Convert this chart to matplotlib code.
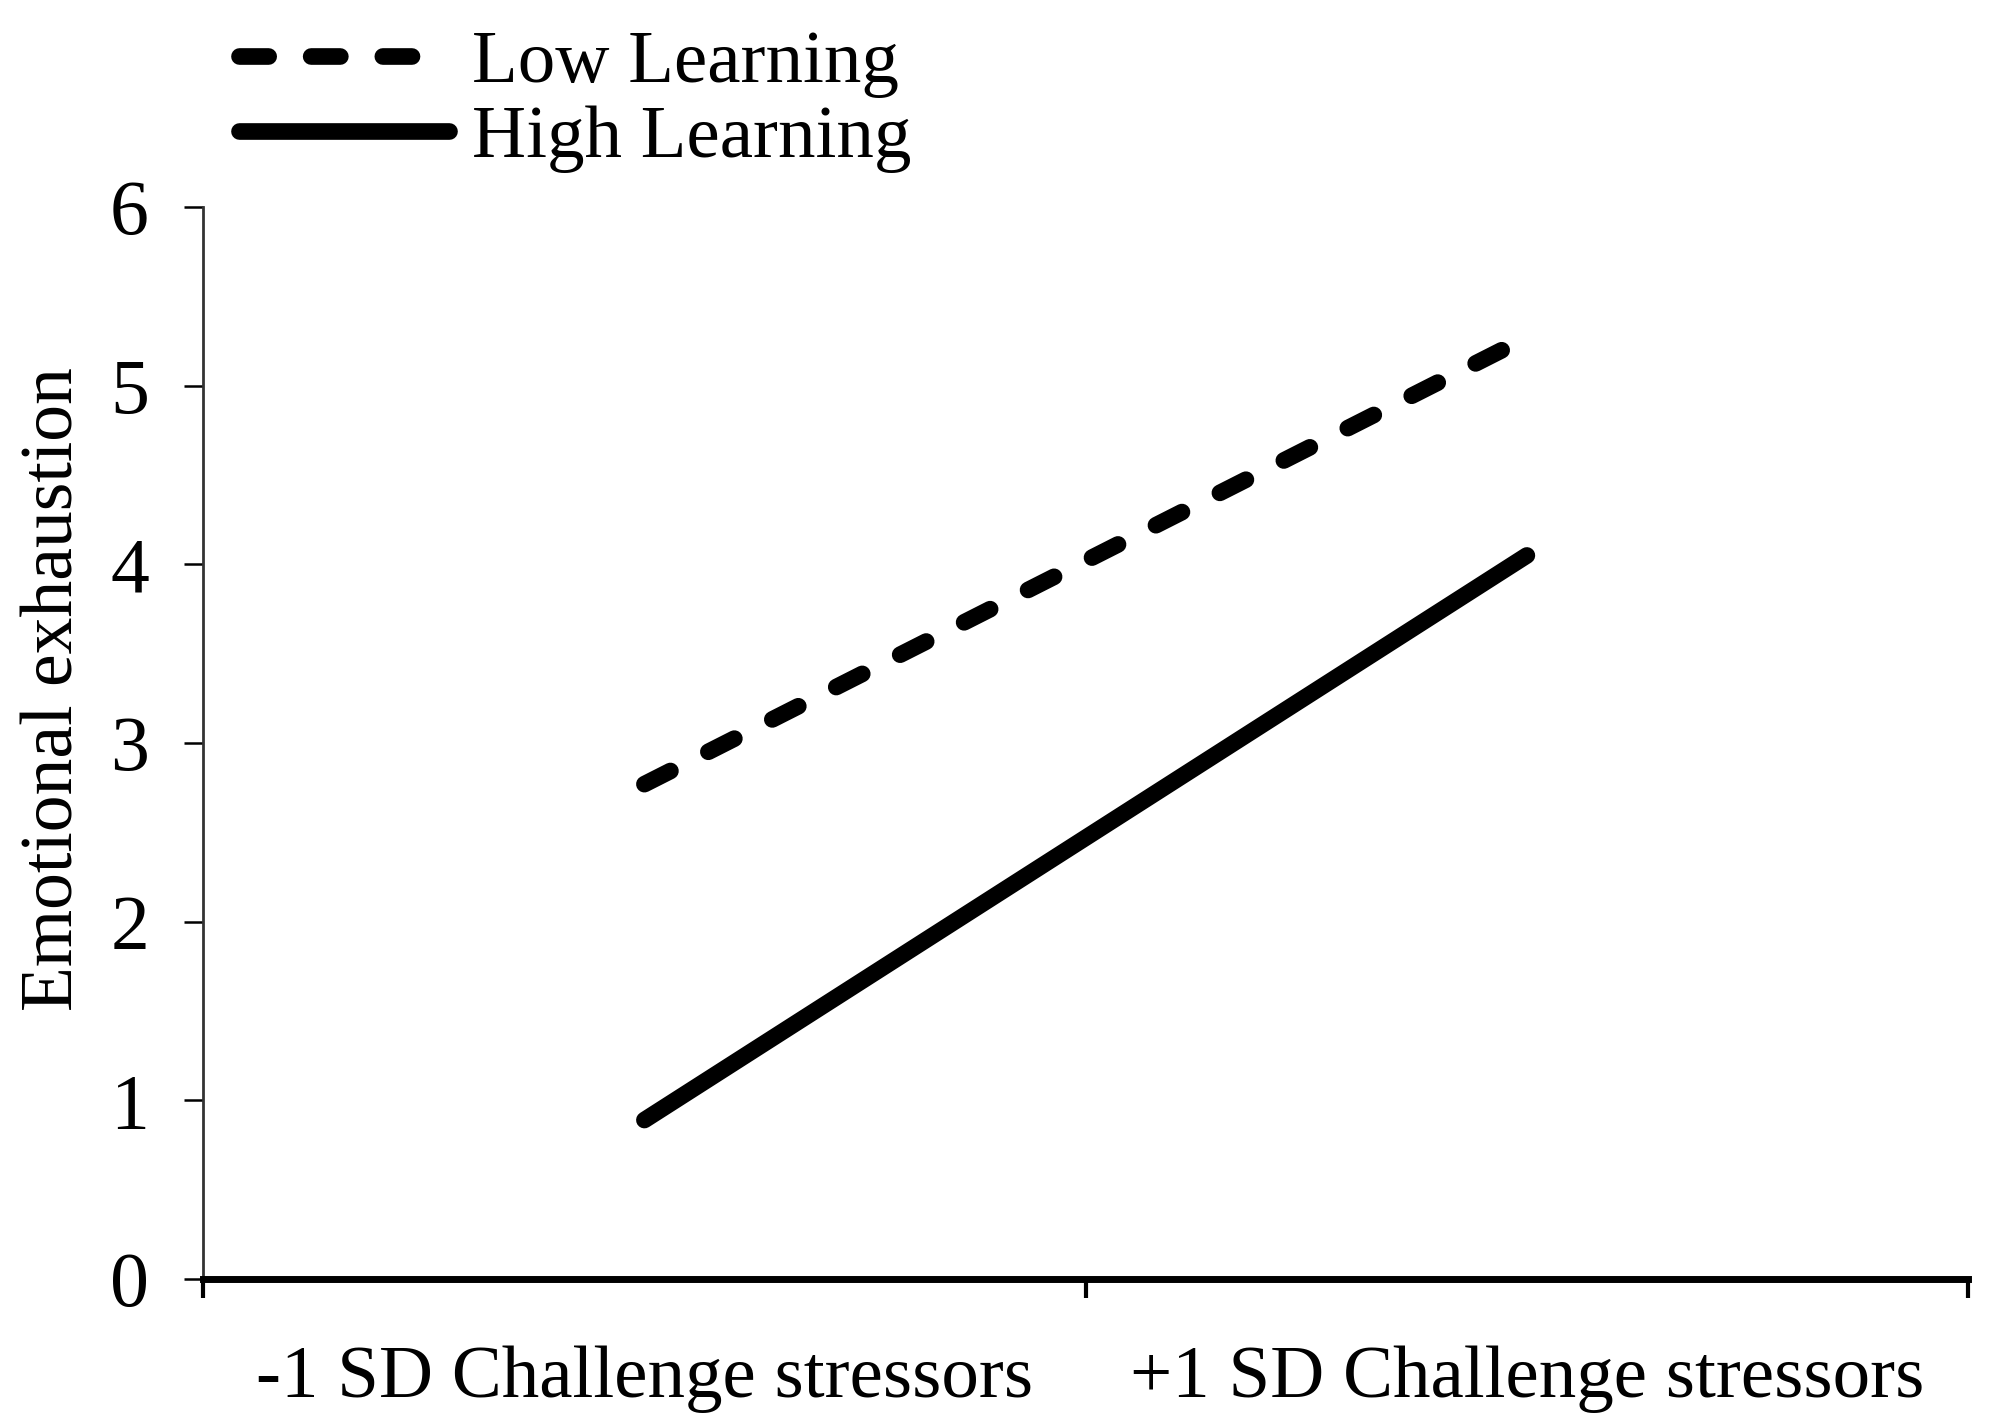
import matplotlib
matplotlib.use("Agg")
import matplotlib.pyplot as plt

plt.rcParams['font.family'] = ['Liberation Serif', 'DejaVu Serif']

# ── Data ──────────────────────────────────────────────────────────────────────
categories = ['-1 SD Challenge stressors', '+1 SD Challenge stressors']
low_learning = [2.77, 5.27]
high_learning = [0.89, 4.05]
y_ticks = [0, 1, 2, 3, 4, 5, 6]

x = list(range(len(categories)))

fig = plt.figure(figsize=(19.92, 14.28), dpi=100)
ax = fig.add_axes([0.102, 0.1043, 0.886, 0.7507])

ax.plot(x, low_learning, color='black', lw=12, linestyle=(0, (1.75, 2.55)),
        dash_capstyle='round', solid_capstyle='round', label='Low Learning')
ax.plot(x, high_learning, color='black', lw=12, solid_capstyle='round',
        label='High Learning')

# ── Axes ──────────────────────────────────────────────────────────────────────
ax.set_xlim(-0.5, len(categories) - 0.5)
ax.set_ylim(0, 6)
ax.set_yticks(y_ticks)
ax.set_yticklabels([str(v) for v in y_ticks], fontsize=56)

ax.set_xticks([i - 0.5 for i in range(len(categories) + 1)])
ax.set_xticklabels([])
ax.set_xticks(x, minor=True)
ax.set_xticklabels(categories, minor=True, fontsize=54)
ax.tick_params(axis='x', which='major', length=14, width=3, direction='out')
ax.tick_params(axis='x', which='minor', length=0, pad=48)
ax.tick_params(axis='y', length=14, width=1.8, direction='out', pad=25)

ax.spines['top'].set_visible(False)
ax.spines['right'].set_visible(False)
ax.spines['bottom'].set_linewidth(5)
ax.spines['left'].set_linewidth(2)
ax.spines['left'].set_color('#333333')

ax.set_ylabel('Emotional exhaustion', fontsize=53)
ax.yaxis.set_label_coords(-0.065, 0.55)

# ── Legend ────────────────────────────────────────────────────────────────────
fig.legend(loc='upper left', bbox_to_anchor=(0.105, 1.0), frameon=False,
           fontsize=54, handlelength=2.8, handletextpad=0.3, labelspacing=0.08,
           borderaxespad=0)

fig.savefig('out.png', dpi=100)
